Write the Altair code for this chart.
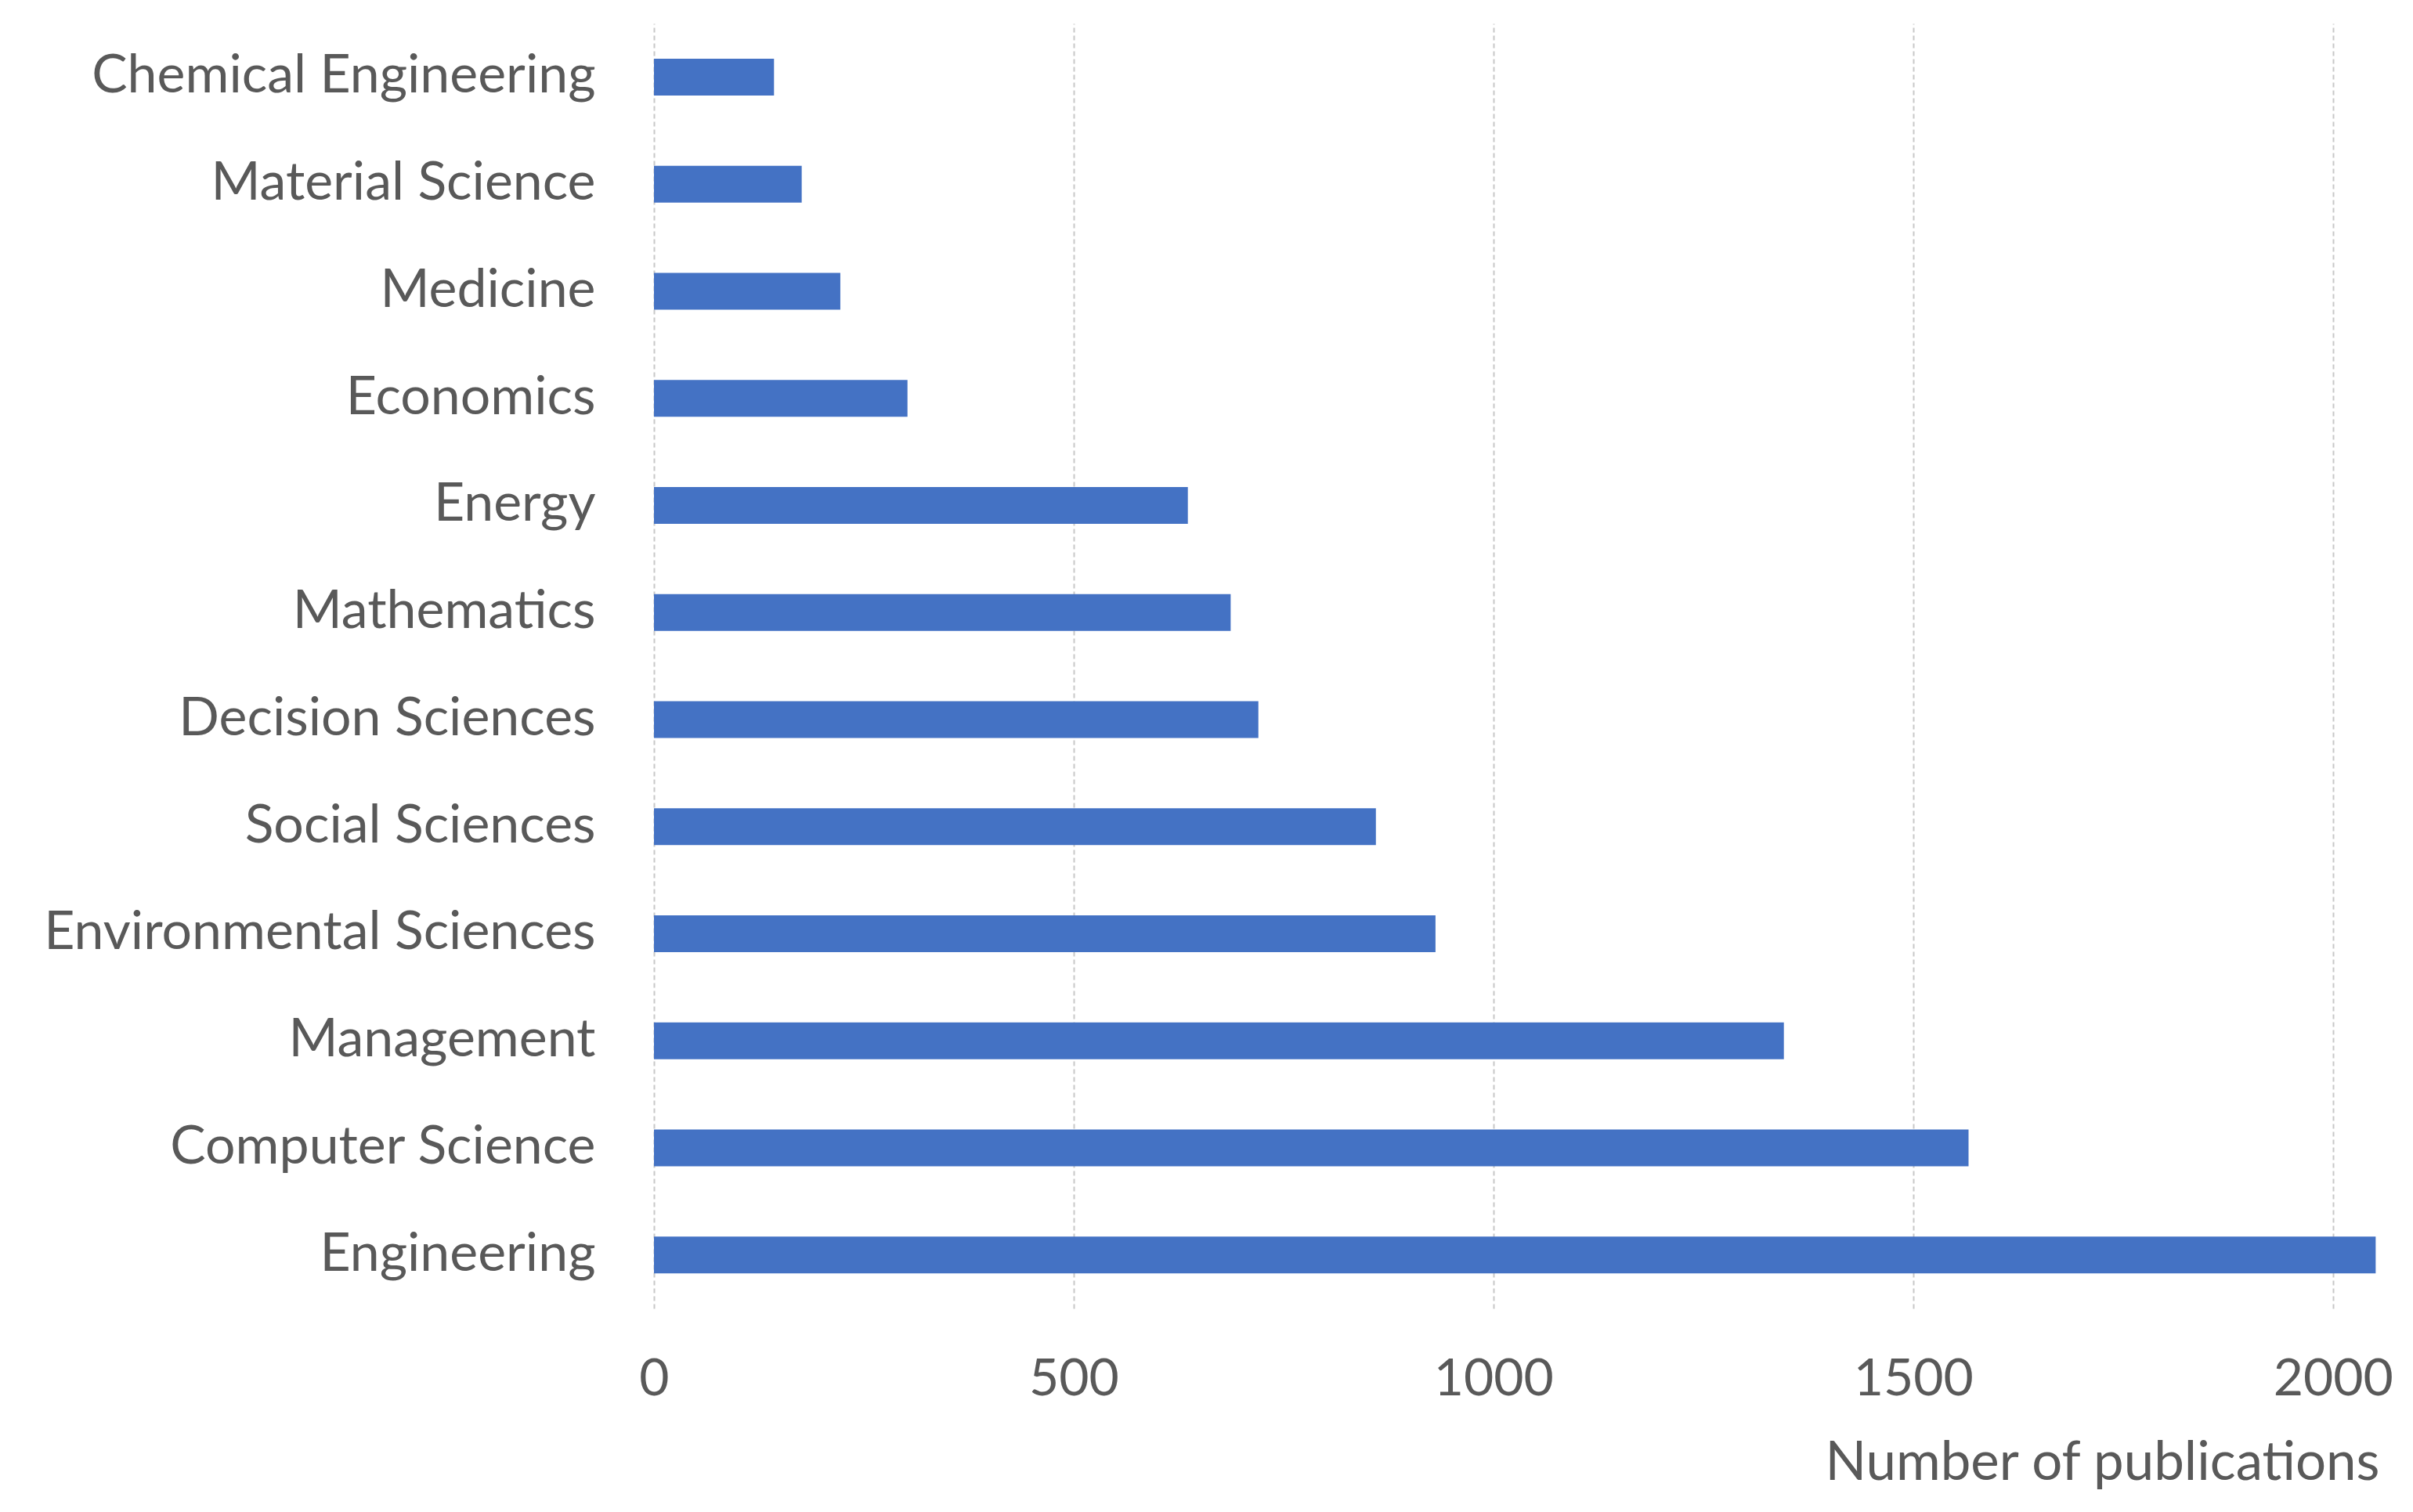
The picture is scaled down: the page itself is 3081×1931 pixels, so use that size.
import altair as alt
import pandas as pd

categories = ["Chemical Engineering", "Material Science", "Medicine", "Economics", "Energy",
              "Mathematics", "Decision Sciences", "Social Sciences", "Environmental Sciences",
              "Management", "Computer Science", "Engineering"]
publications = [143, 176, 222, 302, 636, 687, 720, 860, 931, 1346, 1566, 2051]
tick_values = [0, 500, 1000, 1500, 2000]

df = pd.DataFrame({"category": categories, "publications": publications})

FONT = "Lato"
GRAY = "#595959"

chart = alt.Chart(df).mark_bar(size=47, color="#4472C4").encode(
    x=alt.X("publications:Q",
            scale=alt.Scale(domain=[0, 2060], nice=False),
            axis=alt.Axis(values=tick_values, format="d", title="Number of publications",
                          grid=True, gridColor="#c8c8c8", gridDash=[6, 4], gridWidth=2,
                          domain=False, ticks=False,
                          labelFont=FONT, labelFontSize=66, labelColor=GRAY,
                          labelPadding=58, labelFlush=False,
                          titleFont=FONT, titleFontSize=69, titleColor=GRAY,
                          titleFontWeight="normal",
                          titleAlign="right", titleBaseline="middle",
                          titleX=2203, titleY=197)),
    y=alt.Y("category:N", sort=categories,
            axis=alt.Axis(title=None, domain=False, ticks=False, grid=False,
                          labelFont=FONT, labelFontSize=68, labelColor=GRAY,
                          labelPadding=75, labelLimit=1000)),
).properties(
    width=2208, height=1641,
    background="white",
    autosize=alt.AutoSizeParams(type="none"),
    padding={"left": 827, "top": 22, "right": 20, "bottom": 250},
).configure_view(strokeWidth=0, stroke="transparent")

chart.save("out.html", embed_options={"renderer": "svg", "actions": False})
